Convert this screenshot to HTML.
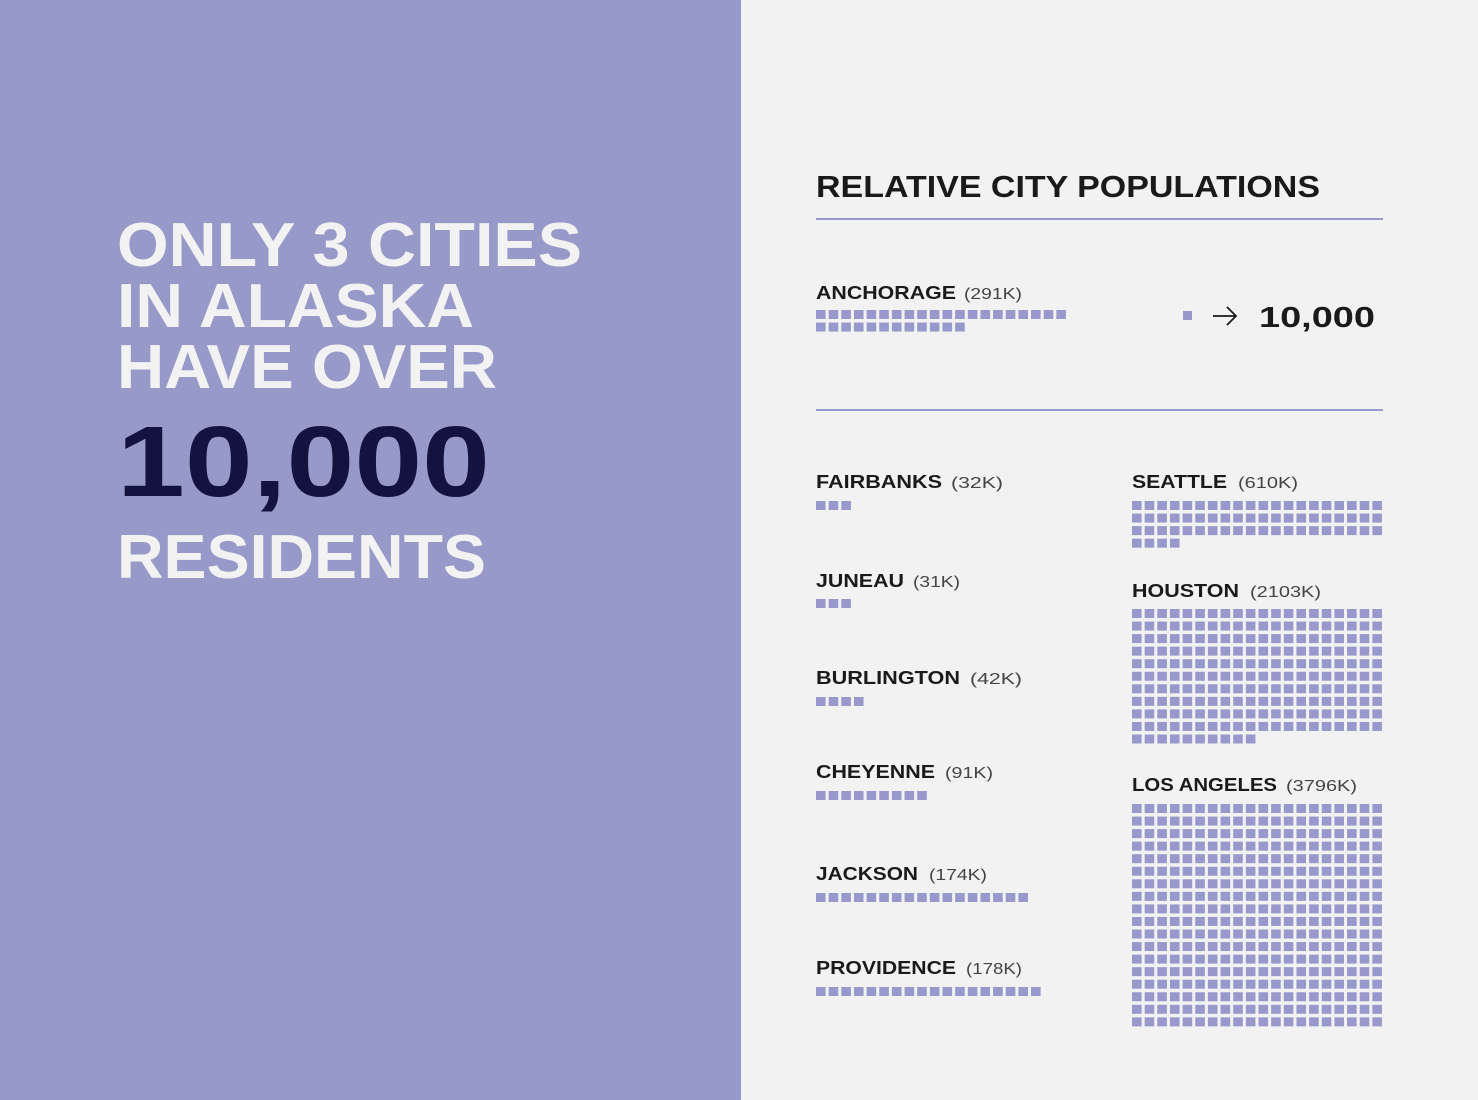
<!DOCTYPE html>
<html><head><meta charset="utf-8"><style>
html,body{margin:0;padding:0;width:1478px;height:1100px;overflow:hidden;background:#f2f2f2}
svg{display:block}
</style></head><body>
<svg id="s" width="1478" height="1100" xmlns="http://www.w3.org/2000/svg" font-family="Liberation Sans, sans-serif">
<rect x="0" y="0" width="741" height="1100" fill="#9799c8"/>
<rect x="741" y="0" width="737" height="1100" fill="#f2f2f2"/>
<g font-weight="bold" fill="#f2f2f2" font-size="62">
<text x="117" y="266" textLength="465" lengthAdjust="spacingAndGlyphs">ONLY 3 CITIES</text>
<text x="117" y="327" textLength="357" lengthAdjust="spacingAndGlyphs">IN ALASKA</text>
<text x="117" y="388" textLength="380" lengthAdjust="spacingAndGlyphs">HAVE OVER</text>
<text x="117" y="578" textLength="369" lengthAdjust="spacingAndGlyphs">RESIDENTS</text>
</g>
<text x="117" y="496" font-weight="bold" font-size="100" fill="#14123f" textLength="373" lengthAdjust="spacingAndGlyphs">10,000</text>
<text x="816" y="197" font-weight="bold" font-size="31" fill="#1a1a1a" textLength="504" lengthAdjust="spacingAndGlyphs">RELATIVE CITY POPULATIONS</text>
<rect x="816" y="218" width="567" height="2" fill="#9898cc"/>
<rect x="816" y="409" width="567" height="2" fill="#9898cc"/>
<rect x="1183" y="311" width="9" height="9" fill="#9898cc"/>
<path d="M1213 316 H1236 M1227 307 L1236 316 L1227 325" stroke="#1a1a1a" stroke-width="1.8" fill="none"/>
<text x="1259" y="327" font-weight="bold" font-size="29" fill="#1a1a1a" textLength="116" lengthAdjust="spacingAndGlyphs">10,000</text>
<g id="labels" fill="#1a1a1a"></g>
<g id="sq" fill="#9898cc"></g>
</svg>
<script>
var L=[
["ANCHORAGE","(291K)",816,299,956,964,1022],
["FAIRBANKS","(32K)",816,488,942,951,1003],
["JUNEAU","(31K)",816,587,904,913,960],
["BURLINGTON","(42K)",816,684,960,970,1022],
["CHEYENNE","(91K)",816,778,935,945,993],
["JACKSON","(174K)",816,880,918,929,987],
["PROVIDENCE","(178K)",816,974,956,966,1022],
["SEATTLE","(610K)",1132,488,1227,1238,1298],
["HOUSTON","(2103K)",1132,597,1239,1250,1321],
["LOS ANGELES","(3796K)",1132,791,1277,1286,1357]];
var g=document.getElementById('labels'),ns="http://www.w3.org/2000/svg";
L.forEach(function(a){
 var t=document.createElementNS(ns,'text');t.setAttribute('x',a[2]);t.setAttribute('y',a[3]);
 t.setAttribute('font-size','18');t.setAttribute('font-weight','bold');t.setAttribute('textLength',a[4]-a[2]);
 t.setAttribute('lengthAdjust','spacingAndGlyphs');t.textContent=a[0];g.appendChild(t);
 var u=document.createElementNS(ns,'text');u.setAttribute('x',a[5]);u.setAttribute('y',a[3]);
 u.setAttribute('font-size','16');u.setAttribute('fill','#444');u.setAttribute('textLength',a[6]-a[5]);
 u.setAttribute('lengthAdjust','spacingAndGlyphs');u.textContent=a[1];g.appendChild(u);
});
var S=document.getElementById('sq');
function blk(x,y,n,per){for(var i=0;i<n;i++){var r=document.createElementNS(ns,'rect');
 r.setAttribute('x',(x+(i%per)*12.65).toFixed(2));r.setAttribute('y',(y+Math.floor(i/per)*12.55).toFixed(2));
 r.setAttribute('width','9.6');r.setAttribute('height','9');S.appendChild(r);}}
blk(816,310,32,20);
blk(816,501,3,20);blk(816,599,3,20);blk(816,697,4,20);blk(816,791,9,20);
blk(816,893,17,20);blk(816,987,18,20);
blk(1132,501,64,20);blk(1132,609,210,20);blk(1132,804,360,20);
</script>
</body></html>
